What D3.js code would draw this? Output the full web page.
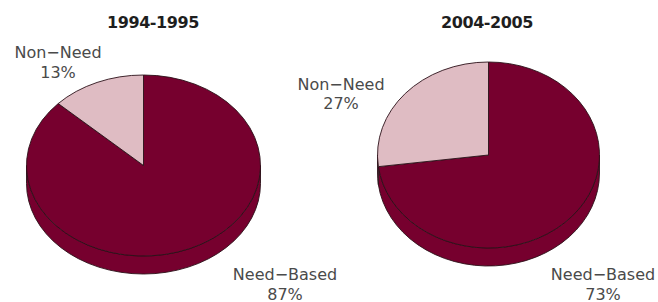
<!DOCTYPE html>
<html>
<head>
<meta charset="utf-8">
<script src="https://cdn.jsdelivr.net/npm/d3@7"></script>
<style>
  body { margin: 0; background: #fff; }
  svg { display: block; }
</style>
</head>
<body>
<div id="chart"></div>
<script>
// Data
const years = ['1994-1995', '2004-2005'];
const categories = ['Need\u2212Based', 'Non\u2212Need'];
const values1995 = [87, 13];
const values2005 = [73, 27];

const colors = d3.scaleOrdinal()
    .domain(categories)
    .range(['#76002e', '#dfbcc3']);

// Layout of each pie (position, radii, thickness, label spots)
const pies = [
    { year: years[0], values: values1995, cx: 143.5, cy: 165.5, rx: 117, ry: 90.5, depth: 18,
      titleX: 153, labels: [{ x: 285, y: 280 }, { x: 58, y: 58 }] },
    { year: years[1], values: values2005, cx: 488.5, cy: 155, rx: 111, ry: 93, depth: 18,
      titleX: 487, labels: [{ x: 603, y: 280 }, { x: 341, y: 89.5 }] }
];

const width = 658, height = 302;
const svg = d3.select('#chart').append('svg')
    .attr('width', width)
    .attr('height', height);

// Point on the ellipse, angle measured clockwise from 12 o'clock
function pt(p, a, dy) {
    return [p.cx + p.rx * Math.sin(a), p.cy - p.ry * Math.cos(a) + (dy || 0)];
}

// Top face of a slice
function topPath(p, d) {
    const s = pt(p, d.startAngle), e = pt(p, d.endAngle);
    const large = d.endAngle - d.startAngle > Math.PI ? 1 : 0;
    return `M${p.cx},${p.cy}L${s}A${p.rx},${p.ry} 0 ${large} 1 ${e}Z`;
}

// Visible front wall of a slice (between 3 o'clock and 9 o'clock)
function sidePath(p, d) {
    const a0 = Math.max(d.startAngle, Math.PI / 2);
    const a1 = Math.min(d.endAngle, Math.PI * 1.5);
    if (a1 <= a0) return null;
    const s = pt(p, a0), e = pt(p, a1);
    const sb = pt(p, a0, p.depth), eb = pt(p, a1, p.depth);
    return `M${s}A${p.rx},${p.ry} 0 0 1 ${e}L${eb}A${p.rx},${p.ry} 0 0 0 ${sb}Z`;
}

const pie = d3.pie().sort(null).value(d => d.value);

pies.forEach(p => {
    const arcs = pie(categories.map((c, i) => ({ cat: c, value: p.values[i] })));
    const g = svg.append('g');

    // Side walls first
    g.selectAll('path.side')
        .data(arcs.filter(d => sidePath(p, d)))
        .enter().append('path')
        .attr('class', 'side')
        .attr('d', d => sidePath(p, d))
        .attr('fill', d => colors(d.data.cat))
        .attr('stroke', '#2b1119')
        .attr('stroke-width', 0.9)
        .attr('stroke-linejoin', 'round');

    // Top faces
    g.selectAll('path.top')
        .data(arcs)
        .enter().append('path')
        .attr('class', 'top')
        .attr('d', d => topPath(p, d))
        .attr('fill', d => colors(d.data.cat))
        .attr('stroke', '#2b1119')
        .attr('stroke-width', 0.9)
        .attr('stroke-linejoin', 'round');

    // Title
    svg.append('text')
        .attr('x', p.titleX)
        .attr('y', 27.5)
        .attr('text-anchor', 'middle')
        .attr('font-family', 'DejaVu Sans, sans-serif')
        .attr('font-weight', 'bold')
        .attr('font-size', 16)
        .attr('letter-spacing', -0.4)
        .attr('fill', '#1e1e1e')
        .text(p.year);

    // Labels: name and percent
    const lab = svg.append('g').selectAll('text')
        .data(arcs)
        .enter().append('text')
        .attr('text-anchor', 'middle')
        .attr('font-family', 'DejaVu Sans, sans-serif')
        .attr('font-size', 16)
        .attr('fill', '#4a4a4a');
    lab.append('tspan')
        .attr('x', (d, i) => p.labels[i].x)
        .attr('y', (d, i) => p.labels[i].y)
        .text(d => d.data.cat);
    lab.append('tspan')
        .attr('x', (d, i) => p.labels[i].x)
        .attr('y', (d, i) => p.labels[i].y + 19.5)
        .text(d => d.data.value + '%');
});
</script>
</body>
</html>
